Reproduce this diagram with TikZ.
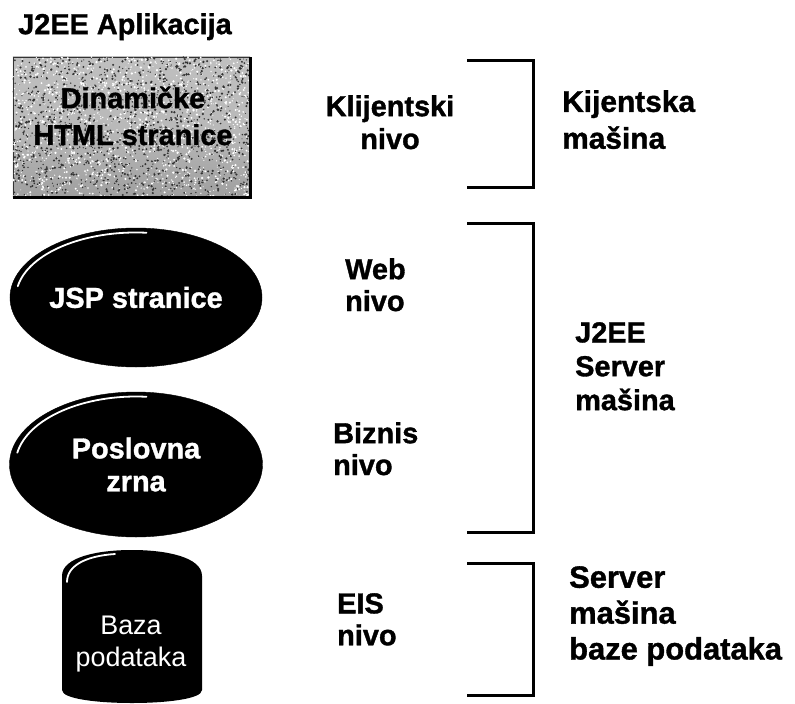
\documentclass[tikz,border=0pt]{standalone}
\usepackage{fontspec}
\setmainfont{Liberation Sans}[BoldFeatures={FakeBold=1.2}]
\usetikzlibrary{shapes.geometric}
\begin{document}
\begin{tikzpicture}[x=1bp,y=-1bp,
  lbl/.style={font=\bfseries\fontsize{29}{32}\selectfont, inner sep=0pt, align=left},
  tierlbl/.style={lbl, anchor=north west},
  machinelbl/.style={lbl, anchor=north west, font=\bfseries\fontsize{30}{36}\selectfont},
  bracketline/.style={line width=3bp, line join=miter},
  darkell/.style={ellipse, fill=black, draw=black, inner sep=0pt, text=white,
    align=center, font=\bfseries\fontsize{29}{33}\selectfont},
  hilite/.style={draw=white, line width=1.8bp, line cap=round},
  htmlbox/.style={rectangle, draw=black!80, line width=0.8bp,
    top color=gray!50, bottom color=gray!75, middle color=gray!55,
    minimum width=237bp, minimum height=140bp, inner sep=0pt},
]
\useasboundingbox (0,0) rectangle (795,704);

% heading
\node[tierlbl] (title) at (18,13) {J2EE Aplikacija};

% client tier: granite-textured box with drop shadow
\node[htmlbox] (html) at (131.5,127) {};
\begin{scope}
  \clip (html.south west) rectangle (html.north east);
  \pgfmathsetseed{11}
  \foreach \i in {1,...,1400} {
    \pgfmathsetmacro\px{13+237*rnd}
    \pgfmathsetmacro\py{57+140*rnd}
    \pgfmathsetmacro\pr{0.5+0.8*rnd}
    \fill[white] (\px,\py) circle[radius=\pr];
  }
  \foreach \i in {1,...,1400} {
    \pgfmathsetmacro\px{13+237*rnd}
    \pgfmathsetmacro\py{57+140*rnd}
    \pgfmathsetmacro\pr{0.5+0.8*rnd}
    \fill[black!80] (\px,\py) circle[radius=\pr];
  }
\end{scope}
\draw[line width=3.5bp] (html.south west) -- (html.south east) -- (html.north east);
\node[lbl, align=center, font=\bfseries\fontsize{29}{37}\selectfont] (htmltext)
  at (133,116) {Dinamičke\\HTML stranice};

% web and business tiers, each with a light rim on the upper left
\node[darkell, minimum width=252bp, minimum height=139bp] (jsp) at (136,297.5) {JSP stranice};
\draw[hilite] ([xshift=-118.2bp,yshift=11.3bp]jsp.center)
  arc[start angle=170, end angle=85, x radius=120bp, y radius=65bp];

\node[darkell, minimum width=253bp, minimum height=145bp] (beans) at (136,464.5) {Poslovna\\zrna};
\draw[hilite] ([xshift=-118.7bp,yshift=11.8bp]beans.center)
  arc[start angle=170, end angle=85, x radius=120.5bp, y radius=68bp];

% EIS tier: database drum
\fill[black] (62,690) -- (62,576)
  .. controls (62,557) and (98,550) .. (132,550)
  .. controls (166,550) and (202,557) .. (202,576)
  -- (202,690)
  .. controls (202,699) and (166,703) .. (132,703)
  .. controls (98,703) and (62,699) .. (62,690) -- cycle;
\draw[hilite] (67,582) .. controls (67,566) and (85,556) .. (115,554);
\node[inner sep=0pt, align=center, text=white, font=\fontsize{27}{33}\selectfont]
  (db) at (131,644) {Baza\\podataka};

% tier names
\node[lbl, anchor=north, align=center, font=\bfseries\fontsize{29}{33}\selectfont]
  (clienttier) at (390,95) {Klijentski\\nivo};
\node[tierlbl] (webtier) at (345,258) {Web\\nivo};
\node[tierlbl] (biztier) at (333,422) {Biznis\\nivo};
\node[tierlbl] (eistier) at (337,593) {EIS\\nivo};

% brackets grouping tiers by machine
\draw[bracketline] (467,61) -- (533,61) -- (533,187) -- (467,187);
\draw[bracketline] (467,223) -- (533,223) -- (533,532) -- (467,532);
\draw[bracketline] (467,563) -- (533,563) -- (533,695) -- (467,695);

% machine names
\node[machinelbl, font=\bfseries\fontsize{30}{37}\selectfont] (clientmachine) at (562,90) {Kijentska\\mašina};
\node[machinelbl, font=\bfseries\fontsize{29}{34}\selectfont] (j2eemachine) at (575,322) {J2EE\\Server\\mašina};
\node[machinelbl, font=\bfseries\fontsize{31}{36}\selectfont] (dbmachine) at (569,566) {Server\\mašina\\baze podataka};
\end{tikzpicture}
\end{document}
